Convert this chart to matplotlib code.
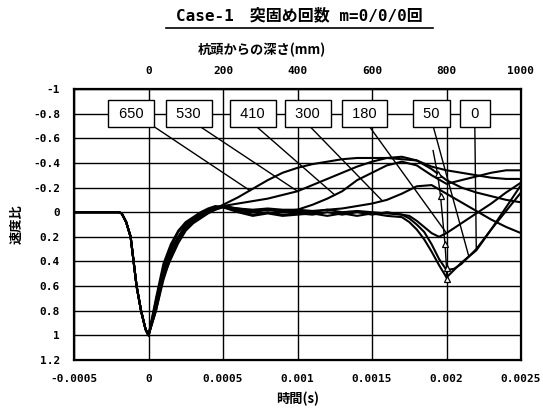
import matplotlib

matplotlib.use("Agg")
import matplotlib.pyplot as plt
import numpy as np
from matplotlib.lines import Line2D

JP = ["Noto Sans CJK JP", "DejaVu Sans"]
MONO = "DejaVu Sans Mono"

# common leading edge of the pulse (all gauges)
t_head = [-0.0005, -0.0002, -0.00018, -0.00015, -0.00012, -0.0001, -0.00008, -0.00005, -0.00002, 0.0]
v_head = [0.0, 0.0, 0.01, 0.08, 0.2, 0.4, 0.6, 0.8, 0.95, 1.0]

# tails per gauge depth (mm from pile head)
t_650 = [0.00005, 0.0001, 0.00015, 0.0002, 0.00025, 0.0003, 0.00035, 0.0004, 0.00045, 0.0005,
         0.0006, 0.0007, 0.0008, 0.0009, 0.001, 0.0011, 0.0012, 0.0013, 0.0014, 0.0015,
         0.0016, 0.0017, 0.0018, 0.0019, 0.002, 0.0021, 0.0022, 0.0023, 0.0024, 0.0025]
v_650 = [0.78, 0.5, 0.32, 0.2, 0.12, 0.07, 0.03, -0.01, -0.03, -0.06,
         -0.12, -0.19, -0.26, -0.32, -0.36, -0.39, -0.41, -0.43, -0.44, -0.44,
         -0.44, -0.43, -0.42, -0.37, -0.34, -0.32, -0.3, -0.28, -0.27, -0.27]

t_530 = [0.00005, 0.0001, 0.00015, 0.0002, 0.00025, 0.0003, 0.00035, 0.0004, 0.00045, 0.0005,
         0.0006, 0.0007, 0.0008, 0.0009, 0.001, 0.0011, 0.0012, 0.0013, 0.0014, 0.0015,
         0.0016, 0.0017, 0.0018, 0.0019, 0.002, 0.0021, 0.0022, 0.0023, 0.0024, 0.0025]
v_530 = [0.8, 0.55, 0.36, 0.22, 0.13, 0.08, 0.04, 0.0, -0.03, -0.05,
         -0.07, -0.09, -0.11, -0.14, -0.17, -0.22, -0.27, -0.32, -0.37, -0.41,
         -0.44, -0.45, -0.42, -0.35, -0.26, -0.2, -0.16, -0.13, -0.1, -0.08]

t_410 = [0.00005, 0.0001, 0.00015, 0.0002, 0.00025, 0.0003, 0.00035, 0.0004, 0.00045, 0.0005,
         0.0006, 0.0007, 0.0008, 0.0009, 0.001, 0.0011, 0.0012, 0.0013, 0.0014, 0.0015,
         0.0016, 0.0017, 0.0018, 0.0019, 0.002, 0.0021, 0.0022, 0.0023, 0.0024, 0.0025]
v_410 = [0.76, 0.5, 0.33, 0.21, 0.12, 0.07, 0.03, -0.01, -0.04, -0.05,
         -0.03, -0.01, -0.02, -0.01, -0.02, -0.06, -0.11, -0.17, -0.26, -0.32,
         -0.38, -0.41, -0.38, -0.3, -0.23, -0.26, -0.29, -0.32, -0.34, -0.34]

t_300 = [0.00005, 0.0001, 0.00015, 0.0002, 0.00025, 0.0003, 0.00035, 0.0004, 0.00045, 0.0005,
         0.0006, 0.0007, 0.0008, 0.0009, 0.001, 0.0011, 0.0012, 0.0013, 0.0014, 0.0015,
         0.0016, 0.0017, 0.0018, 0.0019, 0.002, 0.0021, 0.0022, 0.0023, 0.0024, 0.0025]
v_300 = [0.8, 0.52, 0.38, 0.25, 0.15, 0.09, 0.05, 0.01, -0.02, -0.04,
         -0.03, -0.02, -0.03, -0.02, -0.02, -0.01, -0.02, -0.03, -0.05, -0.07,
         -0.1, -0.15, -0.21, -0.22, -0.15, -0.08, -0.01, 0.06, 0.12, 0.17]

t_180 = [0.00005, 0.0001, 0.00015, 0.0002, 0.00025, 0.0003, 0.00035, 0.0004, 0.00045, 0.0005,
         0.00055, 0.0006, 0.0007, 0.0008, 0.0009, 0.001, 0.0011, 0.0012, 0.0013, 0.0014,
         0.0015, 0.0016, 0.0017, 0.00175, 0.0018, 0.00185, 0.0019, 0.00195, 0.002, 0.0021,
         0.0022, 0.0023, 0.0024, 0.0025]
v_180 = [0.75, 0.48, 0.3, 0.2, 0.1, 0.06, 0.02, -0.02, -0.04, -0.05,
         -0.04, -0.02, 0.0, -0.02, 0.0, -0.01, 0.0, -0.02, 0.0, -0.01,
         0.0, 0.01, 0.02, 0.03, 0.07, 0.12, 0.17, 0.2, 0.17, 0.09,
         0.01, -0.07, -0.16, -0.24]

t_50 = [0.00005, 0.0001, 0.00015, 0.0002, 0.00025, 0.0003, 0.00035, 0.0004, 0.00045, 0.0005,
        0.0006, 0.0007, 0.0008, 0.0009, 0.001, 0.0011, 0.0012, 0.0013, 0.0014, 0.0015,
        0.0016, 0.0017, 0.00175, 0.0018, 0.00185, 0.0019, 0.00195, 0.002, 0.00205, 0.0021,
        0.0022, 0.0023, 0.0024, 0.0025]
v_50 = [0.72, 0.45, 0.28, 0.16, 0.09, 0.05, 0.01, -0.02, -0.04, -0.04,
        -0.01, 0.02, 0.0, 0.02, 0.01, 0.02, 0.0, 0.02, 0.0, 0.02,
        0.0, 0.02, 0.05, 0.1, 0.16, 0.26, 0.38, 0.47, 0.46, 0.42,
        0.3, 0.14, -0.01, -0.16]

t_0 = [0.00005, 0.0001, 0.00015, 0.0002, 0.00025, 0.0003, 0.00035, 0.0004, 0.00045, 0.0005,
       0.0006, 0.0007, 0.0008, 0.0009, 0.001, 0.0011, 0.0012, 0.0013, 0.0014, 0.0015,
       0.0016, 0.0017, 0.00175, 0.0018, 0.00185, 0.0019, 0.00195, 0.002, 0.00205, 0.0021,
       0.0022, 0.0023, 0.0024, 0.0025]
v_0 = [0.7, 0.42, 0.26, 0.15, 0.08, 0.04, 0.0, -0.03, -0.05, -0.04,
       0.0, 0.03, 0.01, 0.03, 0.02, 0.01, 0.03, 0.01, 0.03, 0.01,
       0.03, 0.04, 0.08, 0.14, 0.22, 0.32, 0.43, 0.53, 0.47, 0.41,
       0.31, 0.14, -0.04, -0.22]

depths = ["650", "530", "410", "300", "180", "50", "0"]
tails = [(t_650, v_650), (t_530, v_530), (t_410, v_410), (t_300, v_300),
         (t_180, v_180), (t_50, v_50), (t_0, v_0)]
# time at which each label's leader line meets its curve
leader_t = [0.00068, 0.001, 0.00125, 0.00157, 0.002, 0.00215, 0.0022]

# vertical marker line with triangles near the toe reflection
tri_t = [0.00191, 0.00194, 0.00196, 0.00199, 0.002, 0.002]
tri_v = [-0.5, -0.31, -0.13, 0.26, 0.45, 0.54]

# label box layout
box_x = [-0.000115, 0.00027, 0.0007, 0.00107, 0.00145, 0.0019, 0.00219]
lead_x0 = [0.00003, 0.00034, 0.00072, 0.00108, 0.00148, 0.00191, 0.00219]
box_y = -0.8

fig = plt.figure(figsize=(5.43, 4.16), dpi=100)
ax = fig.add_axes([74 / 543, 1 - 360 / 416, 447 / 543, 271 / 416])

for (tt, vv) in tails:
    t = np.array(t_head + tt)
    v = np.array(v_head + vv)
    ax.plot(t, v, color="black", lw=1.5, zorder=3)

ax.plot(tri_t, tri_v, color="black", lw=1.0, zorder=4)
ax.plot(tri_t[1:], tri_v[1:], ls="none", marker="^", ms=5, mfc="white",
        mec="black", mew=0.9, zorder=5)

for name, (tt, vv), lt, bx, lx in zip(depths, tails, leader_t, box_x, lead_x0):
    t = np.array(t_head + tt)
    v = np.array(v_head + vv)
    ax.plot([lx, lt], [box_y + 0.1, np.interp(lt, t, v)], color="black", lw=1.0, zorder=4)
    ax.text(bx, box_y, f" {name} ", ha="center", va="center", fontsize=10.5,
            family="Liberation Sans", zorder=6,
            bbox=dict(boxstyle="square,pad=0.45", fc="white", ec="black", lw=1.0))

ax.set_xlim(-0.0005, 0.0025)
ax.set_ylim(1.2, -1)
xt = [-0.0005, 0, 0.0005, 0.001, 0.0015, 0.002, 0.0025]
ax.set_xticks(xt)
ax.set_xticklabels(["-0.0005", "0", "0.0005", "0.001", "0.0015", "0.002", "0.0025"],
                   family=MONO, fontweight="bold", fontsize=8)
yt = [-1, -0.8, -0.6, -0.4, -0.2, 0, 0.2, 0.4, 0.6, 0.8, 1, 1.2]
ax.set_yticks(yt)
ax.set_yticklabels(["-1", "-0.8", "-0.6", "-0.4", "-0.2", "0", "0.2", "0.4", "0.6",
                    "0.8", "1", "1.2"], family=MONO, fontweight="bold", fontsize=8)
ax.tick_params(length=0, pad=10)
ax.grid(True, color="black", lw=1.0, zorder=1)
ax.set_axisbelow(True)
for s in ax.spines.values():
    s.set_linewidth(1.6)

ax.set_xlabel("時間(s)", family=JP, fontweight="bold", fontsize=9.5, labelpad=6)
ax.set_ylabel("速度比", family=JP, fontweight="bold", fontsize=9.5, labelpad=7)

ax2 = ax.twiny()
ax2.set_xlim(-200, 1000)
ax2.set_xticks([0, 200, 400, 600, 800, 1000])
ax2.set_xticklabels(["0", "200", "400", "600", "800", "1000"], family=MONO,
                    fontweight="bold", fontsize=8)
ax2.tick_params(length=0, pad=9)
ax2.set_xlabel("杭頭からの深さ(mm)", family=JP, fontweight="bold", fontsize=9.5)
ax2.xaxis.set_label_coords(0.42, 1.13)

fig.text(0.552, 0.962, "Case-1　突固め回数 m=0/0/0回", ha="center", va="center",
         family=[MONO, "Noto Sans CJK JP"], fontweight="bold", fontsize=11.5)
fig.add_artist(Line2D([0.305, 0.797], [0.932, 0.932], color="black", lw=1.2))

fig.savefig("out.png", dpi=100)
